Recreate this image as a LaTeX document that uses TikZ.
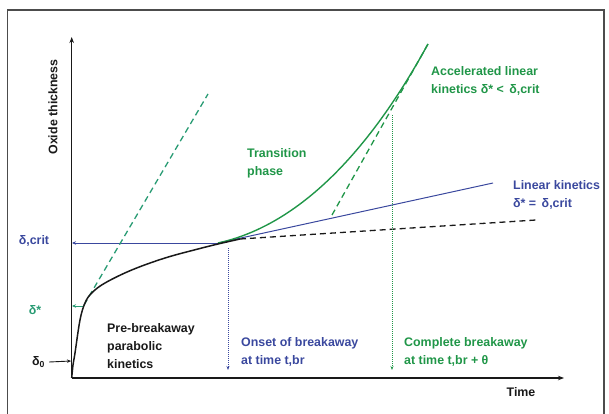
\documentclass[tikz,border=0pt]{standalone}
\usepackage{fontspec}
\setmainfont{Liberation Sans}
\usepackage{xcolor}
\usetikzlibrary{positioning,arrows.meta}

\definecolor{oxblue}{RGB}{58,72,158}
\definecolor{oxgreen}{RGB}{32,150,72}
\definecolor{oxteal}{RGB}{40,155,115}
\definecolor{oxblack}{RGB}{25,25,25}

\tikzset{
  lbl/.style={font=\fontsize{12.4}{18}\selectfont\bfseries, align=left, inner sep=0pt},
  axis/.style={line width=1.1pt, oxblack, -{Stealth[length=6pt,width=4.5pt]}},
  tickarrow/.style={line width=0.9pt, -{Stealth[length=4pt,width=3.5pt]}},
  dropline/.style={line width=0.8pt, dash pattern=on 1pt off 1pt, -{Stealth[length=4pt,width=3pt]}},
  tangent/.style={line width=1.3pt, dash pattern=on 6pt off 4pt}
}

\begin{document}
\begin{tikzpicture}[x=1pt,y=-1pt]
\useasboundingbox (0,0) rectangle (609,414);
\draw[gray!60!black, line width=1.2pt] (7.5,420) -- (7.5,10) -- (604,10) -- (604,420);

\coordinate (O) at (71.7,378);
\coordinate (ytop) at (71.7,37);
\coordinate (xend) at (564,378);
\coordinate (critpt) at (218,243);
\coordinate (critax) at (72,243);
\coordinate (starpt) at (84,306);
\coordinate (starax) at (72,306);
\coordinate (zeroax) at (71,361);
\coordinate (linend) at (493,183);
\coordinate (dashstart) at (240,239);
\coordinate (dashend) at (536,220);
\coordinate (acceltop) at (428,44);
\coordinate (onsettop) at (228,248);
\coordinate (onsetbot) at (228,370);
\coordinate (compltop) at (392,115);
\coordinate (complbot) at (392,370);

\draw[axis] (O) -- (ytop);
\draw[axis] (O) -- (xend);

\node[lbl, oxblack, rotate=90] (ylab) at (53,107) {Oxide thickness};
\node[lbl, oxblack] (time) at (521,392) {Time};
\node[lbl, oxblue] (crit) at (34,241) {δ,crit};
\node[lbl, oxteal] (star) at (35,310) {δ*};
\node[lbl, oxblack] (zero) at (38.5,362) {δ\textsubscript{0}};

\draw[tickarrow, oxblack] (zero.east) ++(4,0) coordinate (zerofrom) (zerofrom) -- (zeroax);
\draw[tickarrow, oxteal] (starpt) -- (starax);
\draw[line width=1pt, oxblue, -{Stealth[length=4pt,width=3.5pt]}] (critpt) -- (critax);

\draw[tangent, oxteal] (84,305) -- (208,94);
\draw[line width=1pt, oxblue] (critpt) -- (linend);
\draw[tangent, oxblack] (dashstart) -- (dashend);
\draw[tangent, oxgreen] (332,215) -- (acceltop);

\draw[line width=1.4pt, oxgreen] (critpt) .. controls (300,225) and (370,150) .. (acceltop);
\draw[line width=1.5pt, oxblack] plot[smooth, tension=0.6] coordinates {
  (71.7,378) (73,365) (75,353) (80,320) (85,303) (91.7,293) (105,283) (131.7,270)
  (165,258) (198,249) (218,244) (240,239)};

\draw[dropline, oxblue] (onsettop) -- (onsetbot);
\draw[dropline, oxgreen] (compltop) -- (complbot);

\node[lbl, oxblack, anchor=west] (prebrk) at (107,346) {Pre-breakaway\\parabolic\\kinetics};
\node[lbl, oxblue, anchor=west] (onset) at (241,352) {Onset of breakaway\\at time t,br};
\node[lbl, oxgreen, anchor=west] (complete) at (404,352) {Complete breakaway\\at time t,br + θ};
\node[lbl, oxgreen, anchor=west] (trans) at (247,163) {Transition\\phase};
\node[lbl, oxgreen, anchor=west] (accel) at (431,81) {Accelerated linear\\kinetics δ* < \,δ,crit};
\node[lbl, oxblue, anchor=west] (linear) at (513,195) {Linear kinetics\\δ* = \,δ,crit};
\end{tikzpicture}
\end{document}
